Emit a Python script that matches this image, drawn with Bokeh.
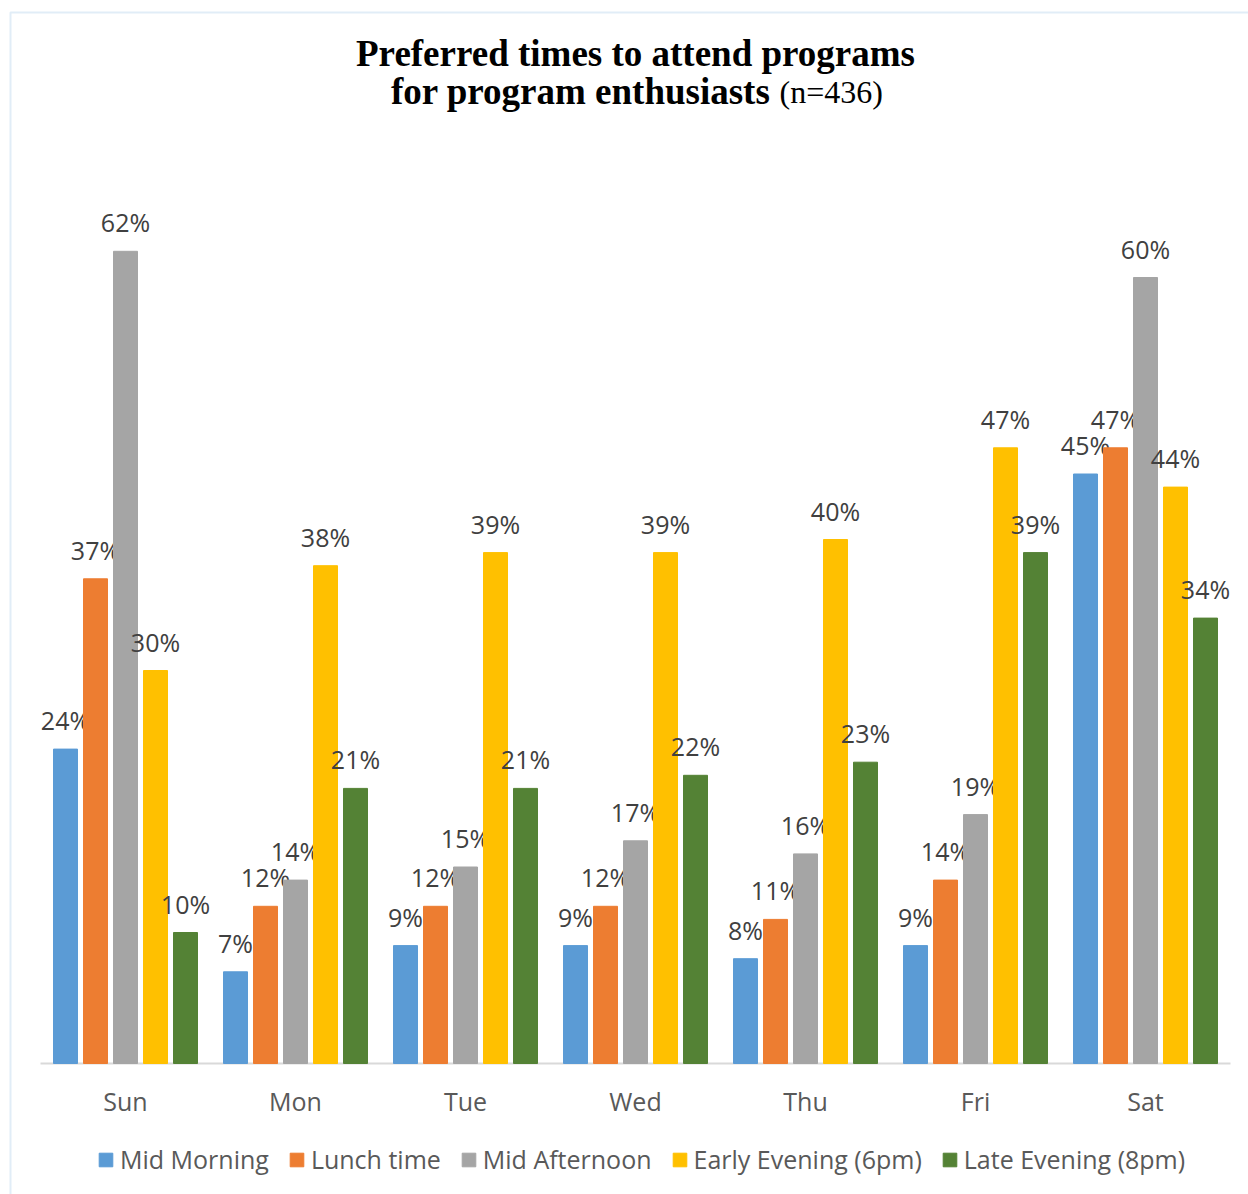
from bokeh.plotting import figure
from bokeh.models import ColumnDataSource, Range1d, Label, Legend, LegendItem, BoxAnnotation, FixedTicker
from bokeh.core.properties import value
from bokeh.embed import file_html
from bokeh.resources import INLINE

days = ["Sun", "Mon", "Tue", "Wed", "Thu", "Fri", "Sat"]
series = ["Mid Morning", "Lunch time", "Mid Afternoon", "Early Evening (6pm)", "Late Evening (8pm)"]
mid_morning = [24, 7, 9, 9, 8, 9, 45]
lunch_time = [37, 12, 12, 12, 11, 14, 47]
mid_afternoon = [62, 14, 15, 17, 16, 19, 60]
early_evening = [30, 38, 39, 39, 40, 47, 44]
late_evening = [10, 21, 21, 22, 23, 39, 34]
values = [mid_morning, lunch_time, mid_afternoon, early_evening, late_evening]
colors = ["#5B9BD5", "#ED7D31", "#A5A5A5", "#FFC000", "#548235"]

W, H = 1248, 1194
PX_X = 170.0      # pixels per day group
PX_Y = 13.1       # pixels per percentage point
X0, Y0 = 125.0, 1063.0   # canvas pixel of first day centre / baseline


def xd(px):
    return (px - X0) / PX_X


def yd(py):
    return (Y0 - py) / PX_Y


p = figure(x_range=Range1d(xd(0), xd(W)), y_range=Range1d(yd(H), yd(0)),
           width=W, height=H, output_backend="svg", toolbar_location=None,
           min_border_left=0, min_border_right=0, min_border_top=0, min_border_bottom=0)
p.xgrid.grid_line_color = None
p.ygrid.grid_line_color = None
p.yaxis.visible = False
p.outline_line_color = None
p.background_fill_color = "white"
p.border_fill_color = "white"

xa = p.xaxis[0]
xa.fixed_location = 0
xa.ticker = FixedTicker(ticks=list(range(len(days))))
xa.major_label_overrides = {i: d for i, d in enumerate(days)}
xa.axis_line_color = None
xa.major_tick_line_color = None
xa.minor_tick_line_color = None
xa.major_label_text_font = "Open Sans"
xa.major_label_text_font_size = "25px"
xa.major_label_text_color = "#595959"
xa.major_label_standoff = 14

# baseline
p.segment(x0=[-0.5], y0=[0], x1=[len(days) - 0.5], y1=[0], line_color="#D9D9D9", line_width=2)

step = 30.0 / PX_X
bw = 24.0 / PX_X
items = []
for i, (name, vals, col) in enumerate(zip(series, values, colors)):
    off = (i - 2) * step
    xs = [k + off for k in range(len(days))]
    src = ColumnDataSource(dict(x=xs, v=vals, lab=[f"{v}%" for v in vals]))
    r = p.vbar(x="x", top="v", width=bw, source=src, fill_color=col, line_color=col)
    p.text(x="x", y="v", text="lab", source=src,
           text_align="center", text_baseline="alphabetic", y_offset=-29,
           text_font=value("Open Sans"), text_font_size="25px", text_color="#404040")
    items.append(LegendItem(label=name, renderers=[r]))

legend = Legend(items=items, orientation="horizontal", location=(97, 18),
                label_text_font="Open Sans", label_text_font_size="25px", label_text_color="#595959",
                glyph_width=17, glyph_height=17, label_standoff=6, spacing=19,
                padding=0, margin=0, border_line_color=None, background_fill_alpha=0)
p.add_layout(legend, "center")

# Title (two lines, mixed weight)
p.add_layout(Label(x=xd(635), y=yd(53), text="Preferred times to attend programs",
                   text_align="center", text_baseline="alphabetic",
                   text_font="Liberation Serif", text_font_style="bold", text_font_size="37px",
                   text_color="black"))
p.add_layout(Label(x=xd(770), y=yd(91), text="for program enthusiasts",
                   text_align="right", text_baseline="alphabetic",
                   text_font="Liberation Serif", text_font_style="bold", text_font_size="37px",
                   text_color="black"))
p.add_layout(Label(x=xd(779), y=yd(91), text="(n=436)",
                   text_align="left", text_baseline="alphabetic",
                   text_font="Liberation Serif", text_font_size="32px",
                   text_color="black"))

# chart area border
p.add_layout(BoxAnnotation(left=xd(10), right=xd(W + 50), top=yd(12), bottom=yd(H + 50),
                           fill_alpha=0, line_color="#9DC3E6", line_width=2, level="underlay"))

open("out.html", "w").write(file_html(p, INLINE))
